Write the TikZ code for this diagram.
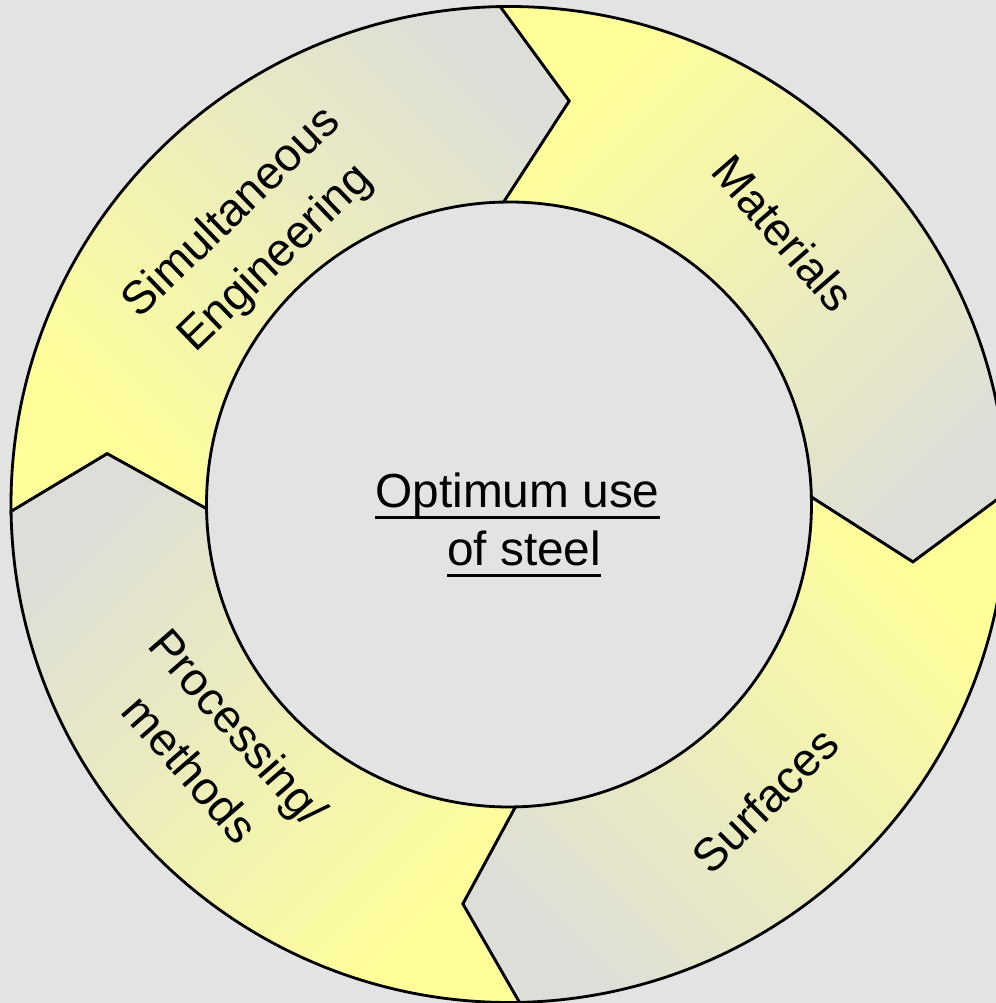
\documentclass[tikz,border=0pt]{standalone}
\usepackage{fontspec}
\setmainfont{Liberation Sans}
\definecolor{ringbg}{RGB}{227,227,227}
\definecolor{ringyellow}{RGB}{255,255,153}
\definecolor{ringgray}{RGB}{222,222,216}
\newcommand{\steelul}[1]{\setbox0\hbox{#1}\rlap{\rule[-3.3pt]{\wd0}{0.9pt}}\box0}

\begin{document}
\begin{tikzpicture}[
    x=0.1mm,y=0.1mm,
    seg/.style={draw=black,line width=0.8pt,top color=ringyellow,bottom color=ringgray},
    lab/.style={font=\fontsize{13.2}{18}\selectfont,align=center,inner sep=0pt}
  ]
  \fill[ringbg] (-509,-498.5) rectangle (487,504.5);
  \clip (-509,-498.5) rectangle (487,504.5);
  \foreach \n/\t/\r in {top/81.5/408,right/-8.1/408,bottom/-96.6/402,left/172.8/405}
    \coordinate (tip-\n) at (\t:\r);
  \foreach \s/\e/\bt/\bh/\sh in {180.8/91/left/top/135,91/1.4/top/right/45,1.4/-88.8/right/bottom/-45,271.2/180.8/bottom/left/-135}
    \draw[seg,shading angle=\sh] (\s:498) arc[start angle=\s,end angle=\e,radius=498] -- (tip-\bh)
      -- (\e:302.5) arc[start angle=\e,end angle=\s,radius=302.5] -- (tip-\bt) -- cycle;
  \node[lab,rotate=44] (simeng) at (133.5:370) {Simultaneous\\Engineering};
  \node[lab,rotate=-49] (materials) at (44.7:386) {Materials};
  \node[lab,rotate=45] (surfaces) at (-49.1:391) {Surfaces};
  \node[lab,rotate=-49] (processing) at (219.6:382) {Processing/\\methods};
  \node[font=\fontsize{13.6}{16.5}\selectfont,align=center,inner sep=0pt] (core) at (8.5,-20.8)
    {\steelul{Optimum use}\\\hspace*{0.28em}\steelul{of steel}};
\end{tikzpicture}
\end{document}
